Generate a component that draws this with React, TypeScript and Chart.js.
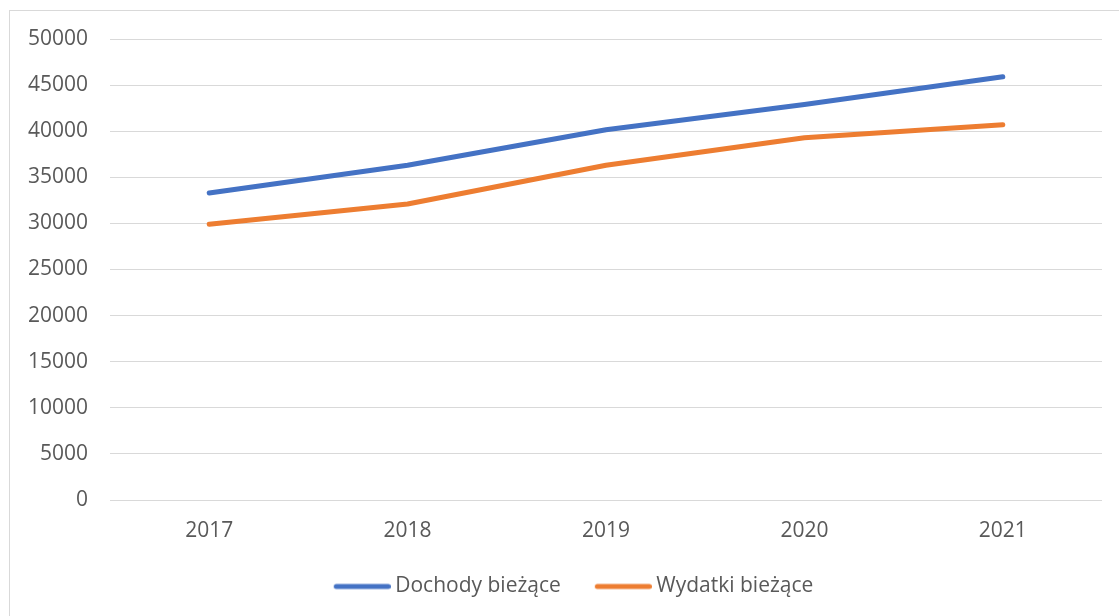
import React, { useEffect, useRef } from "react";
import { Chart, registerables } from "chart.js";

Chart.register(...registerables);

const categories = ["2017", "2018", "2019", "2020", "2021"];
const dochodyBiezace = [33300, 36300, 40150, 42900, 45900];
const wydatkiBiezace = [29900, 32100, 36300, 39300, 40700];
const seriesNames = ["Dochody bieżące", "Wydatki bieżące"];
const seriesColors = ["#4472C4", "#ED7D31"];
const yMin = 0;
const yMax = 50000;
const yStep = 5000;

function makeLegendLine(color: string): HTMLCanvasElement {
  const c = document.createElement("canvas");
  c.width = 63;
  c.height = 10;
  const ctx = c.getContext("2d")!;
  ctx.strokeStyle = color;
  ctx.lineWidth = 5;
  ctx.lineCap = "round";
  ctx.beginPath();
  ctx.moveTo(8.5, 5);
  ctx.lineTo(60.5, 5);
  ctx.stroke();
  return c;
}

export default function App() {
  const ref = useRef<HTMLCanvasElement | null>(null);

  useEffect(() => {
    if (!ref.current) return;
    const font = "'Open Sans', 'DejaVu Sans', sans-serif";
    const fontSize = 21;
    const legendImgs = seriesColors.map(makeLegendLine);
    const chart = new Chart(ref.current, {
      type: "line",
      data: {
        labels: categories,
        datasets: [
          {
            label: seriesNames[0],
            data: dochodyBiezace,
            borderColor: seriesColors[0],
            backgroundColor: seriesColors[0],
            borderWidth: 5,
            pointRadius: 0,
            borderCapStyle: "round",
            borderJoinStyle: "round",
            tension: 0,
            yAxisID: "y",
          },
          {
            label: seriesNames[1],
            data: wydatkiBiezace,
            borderColor: seriesColors[1],
            backgroundColor: seriesColors[1],
            borderWidth: 5,
            pointRadius: 0,
            borderCapStyle: "round",
            borderJoinStyle: "round",
            tension: 0,
            yAxisID: "y",
          },
        ],
      },
      options: {
        animation: false,
        responsive: false,
        maintainAspectRatio: false,
        layout: { padding: { left: 0, right: 0, top: 28, bottom: 0 } },
        plugins: {
          tooltip: { enabled: false },
          legend: {
            position: "bottom",
            labels: {
              color: "#595959",
              font: { family: font, size: fontSize },
              usePointStyle: true,
              pointStyleWidth: 51,
              padding: 34,
              generateLabels: (ch: any) => {
                const items = Chart.defaults.plugins.legend.labels.generateLabels(ch);
                return items.map((it: any, i: number) => ({ ...it, pointStyle: legendImgs[i] }));
              },
            },
          },
        },
        scales: {
          x: {
            offset: true,
            grid: { display: false, drawTicks: false },
            border: { display: false },
            ticks: {
              color: "#595959",
              font: { family: font, size: fontSize },
              padding: 18,
              maxRotation: 0,
            },
            afterFit: (s: any) => {
              s.height = 42;
            },
          },
          y: {
            position: "left",
            min: yMin,
            max: yMax,
            grid: {
              color: "#d9d9d9",
              lineWidth: 1,
              drawTicks: true,
              tickLength: 22,
              tickColor: "rgba(0,0,0,0)",
            },
            border: { display: false },
            ticks: {
              stepSize: yStep,
              color: "#595959",
              font: { family: font, size: fontSize },
              padding: 0,
              callback: (v: any) => String(v),
            },
            afterFit: (s: any) => {
              s.width = 100;
            },
          },
          yRight: {
            position: "right",
            display: true,
            grid: { display: false, drawTicks: false },
            border: { display: false },
            ticks: { display: false },
            afterFit: (s: any) => {
              s.width = 35;
            },
          },
        },
      },
    });
    return () => chart.destroy();
  }, []);

  return (
    <div
      style={{
        position: "fixed",
        left: 0,
        top: 0,
        width: "100vw",
        height: "100vh",
        overflow: "hidden",
        background: "#fff",
      }}
    >
      <div
        style={{
          position: "absolute",
          left: 9,
          top: 10,
          width: 1160,
          height: 700,
          border: "1px solid #d9d9d9",
          boxSizing: "border-box",
        }}
      />
      <canvas
        ref={ref}
        width={1127}
        height={596}
        style={{ position: "absolute", left: 10, top: 11, width: 1127, height: 596 }}
      />
    </div>
  );
}
